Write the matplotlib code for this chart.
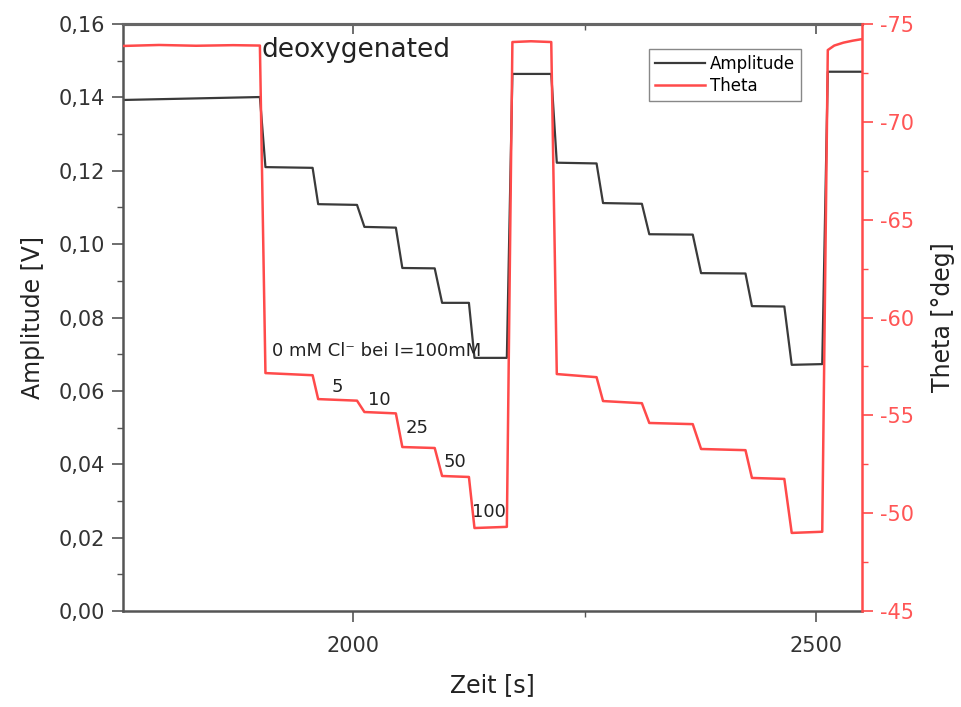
import matplotlib
matplotlib.use("Agg")
import matplotlib.pyplot as plt
from matplotlib.ticker import MultipleLocator, FuncFormatter, FixedLocator

plt.rcParams['font.family'] = ['DejaVu Sans']
plt.rcParams['axes.unicode_minus'] = False

# ---- data ----
amp_time = [1751, 1899, 1905, 1956, 1962, 2004, 2012, 2046, 2053, 2088, 2096, 2125,
            2131, 2166, 2172, 2214, 2220, 2263, 2270, 2312, 2320, 2367, 2376, 2424,
            2431, 2466, 2474, 2507, 2513, 2550]
amp_vals = [0.1393, 0.1401, 0.1210, 0.1208, 0.1109, 0.1107, 0.1047, 0.1045, 0.0935, 0.0934,
            0.0840, 0.0840, 0.0690, 0.0690, 0.1464, 0.1464, 0.1222, 0.1220, 0.1112, 0.1110,
            0.1027, 0.1026, 0.0921, 0.0920, 0.0831, 0.0830, 0.0671, 0.0673, 0.1470, 0.1470]

theta_time = [1751, 1790, 1830, 1870, 1899, 1905, 1956, 1962, 2004, 2012,
              2046, 2053, 2088, 2096, 2125, 2131, 2166, 2172, 2192, 2214, 2220, 2263, 2270,
              2312, 2320, 2367, 2376, 2424, 2431, 2466, 2474, 2507, 2513, 2520, 2530, 2540, 2550]
theta_vals = [-73.88, -73.93, -73.89, -73.92, -73.90, -57.16, -57.05,
              -55.83, -55.75, -55.17, -55.10, -53.38, -53.33, -51.90, -51.85, -49.24, -49.30,
              -74.08, -74.12, -74.08, -57.11, -56.95, -55.73, -55.62, -54.61, -54.55, -53.28,
              -53.22, -51.80, -51.75, -48.99, -49.05, -73.67, -73.90, -74.05, -74.15, -74.23]

conc_labels = ["5", "10", "25", "50", "100"]
conc_x = [1983, 2028, 2069, 2110, 2147]
conc_y = [0.0611, 0.0575, 0.0499, 0.0406, 0.0270]

black = '#3a3a3a'
red = '#ff4a4a'

fig = plt.figure(figsize=(9.61, 7.07), dpi=100)
ax = fig.add_axes([0.128, 0.1358, 0.769, 0.8302])
ax2 = ax.twinx()

l1, = ax.plot(amp_time, amp_vals, color=black, lw=1.6, label='Amplitude')
l2, = ax2.plot(theta_time, theta_vals, color=red, lw=1.8, label='Theta')

ax.set_xlim(1751, 2550)
ax.set_ylim(0.0, 0.16)
ax2.set_ylim(-45, -75)

# ticks
ax.xaxis.set_major_locator(FixedLocator([2000, 2500]))
ax.xaxis.set_minor_locator(FixedLocator([2250]))
ax.yaxis.set_major_locator(MultipleLocator(0.02))
ax.yaxis.set_minor_locator(MultipleLocator(0.01))
ax.yaxis.set_major_formatter(FuncFormatter(lambda v, p: f"{v:.2f}".replace('.', ',')))
ax2.yaxis.set_major_locator(MultipleLocator(5))
ax2.yaxis.set_minor_locator(MultipleLocator(2.5))
ax2.yaxis.set_major_formatter(FuncFormatter(lambda v, p: f"{v:.0f}"))

ax.tick_params(axis='both', which='major', direction='out', length=8, width=1.2,
               color='#555555', labelsize=15, labelcolor='#333333', pad=5)
ax.tick_params(axis='both', which='minor', direction='out', length=4, width=1.0, color='#555555')
ax.tick_params(axis='x', which='major', pad=10)
ax2.tick_params(axis='y', which='major', direction='out', length=8, width=1.2,
                color=red, labelsize=15, labelcolor='#ff5555', pad=5)
ax2.tick_params(axis='y', which='minor', direction='out', length=4, width=1.0, color=red)

sec = ax.secondary_xaxis('top')
sec.xaxis.set_major_locator(FixedLocator([2000, 2500]))
sec.xaxis.set_minor_locator(FixedLocator([2250]))
sec.tick_params(which='major', direction='in', length=7, width=1.2, color='#555555', labeltop=False)
sec.tick_params(which='minor', direction='in', length=4, width=1.0, color='#555555')
sec.spines['top'].set_color('#666666')
sec.spines['top'].set_linewidth(2.2)

for s in ['left', 'bottom']:
    ax.spines[s].set_color('#555555')
    ax.spines[s].set_linewidth(1.8)
ax.spines['top'].set_color('#666666')
ax.spines['top'].set_linewidth(2.2)
ax.spines['right'].set_visible(False)
for s in ['left', 'top', 'bottom']:
    ax2.spines[s].set_visible(False)
ax2.spines['right'].set_color(red)
ax2.spines['right'].set_linewidth(1.8)

ax.set_xlabel('Zeit [s]', fontsize=17, color='#222222', labelpad=12)
ax.set_ylabel('Amplitude [V]', fontsize=17, color='#222222', labelpad=10)
ax2.set_ylabel('Theta [°deg]', fontsize=17, color='#222222', labelpad=12)

# annotations
ax.text(1901, 0.1529, 'deoxygenated', fontsize=19, color='#222222', ha='left', va='center')
ax.text(1912, 0.0709, '0 mM Cl⁻ bei I=100mM', fontsize=13, color='#222222', ha='left', va='center')
for lab, xx, yy in zip(conc_labels, conc_x, conc_y):
    ax.text(xx, yy, lab, fontsize=13, color='#222222', ha='center', va='center')

leg = ax.legend(handles=[l1, l2], loc='upper left', bbox_to_anchor=(649 / 961, 1 - 49 / 707),
                bbox_transform=fig.transFigure, fontsize=12, frameon=True, fancybox=False,
                edgecolor='#888888', framealpha=1, handlelength=3.0, handletextpad=0.3,
                borderpad=0.35, labelspacing=0.25, borderaxespad=0)
leg.get_frame().set_linewidth(1.0)
leg.set_zorder(10)

fig.savefig('out.png', dpi=100)
